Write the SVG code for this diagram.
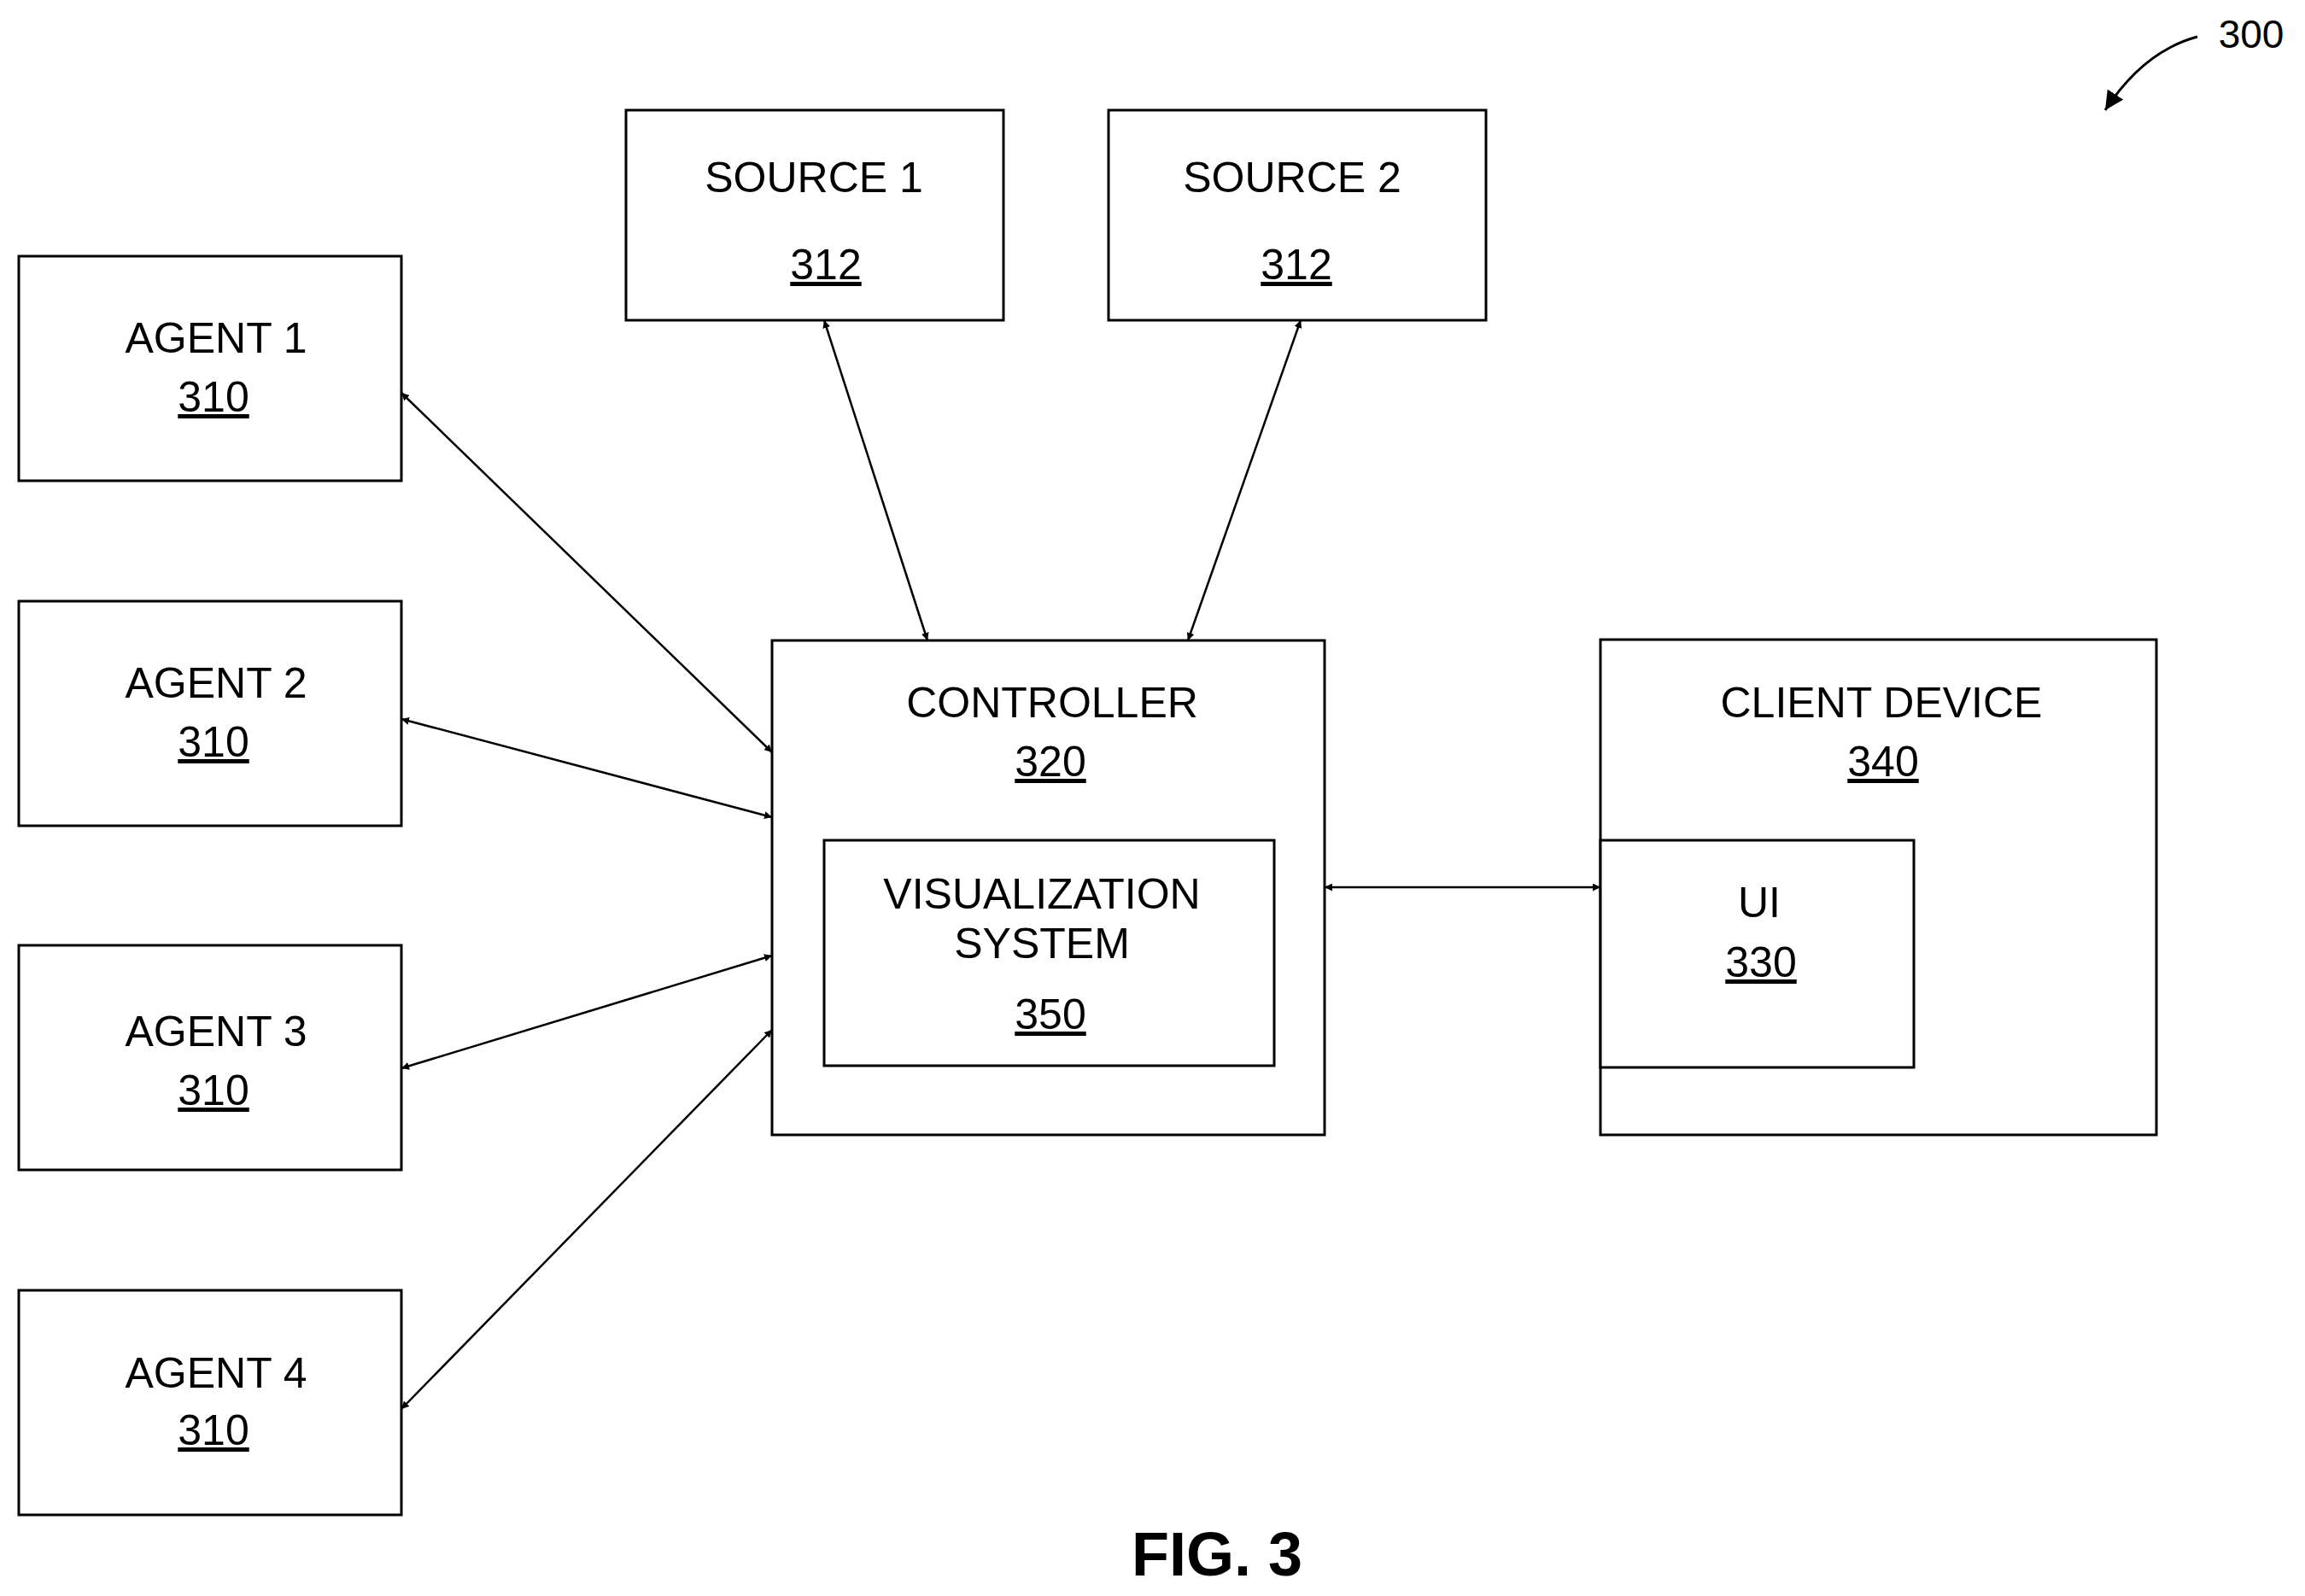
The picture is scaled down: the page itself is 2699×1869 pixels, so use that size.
<svg xmlns="http://www.w3.org/2000/svg" width="2699" height="1869" viewBox="0 0 2699 1869">
<style>
rect{fill:#fff;stroke:#000;stroke-width:3}
text{font-family:"Liberation Sans",Arial,sans-serif;font-size:50px;text-anchor:middle;fill:#000}
.u{text-decoration:underline}
.c line{stroke:#000;stroke-width:2.5;marker-start:url(#a);marker-end:url(#a)}
</style>
<defs><marker id="a" viewBox="0 0 10 10" refX="10" refY="5" markerWidth="9" markerHeight="9" markerUnits="userSpaceOnUse" orient="auto-start-reverse"><path d="M0,0L10,5L0,10z" fill="#000"/></marker>
<marker id="b" viewBox="0 0 10 10" refX="10" refY="5" markerWidth="22" markerHeight="22" markerUnits="userSpaceOnUse" orient="auto"><path d="M0,0L10,5L0,10z" fill="#000"/></marker></defs>
<rect width="2699" height="1869" style="stroke:none"/>
<g id="agent1"><rect x="22" y="300" width="448" height="263"/><text x="253" y="413">AGENT 1</text><text class="u" x="250" y="482">310</text></g>
<g id="agent2"><rect x="22" y="704" width="448" height="263"/><text x="253" y="817">AGENT 2</text><text class="u" x="250" y="886">310</text></g>
<g id="agent3"><rect x="22" y="1107" width="448" height="263"/><text x="253" y="1225">AGENT 3</text><text class="u" x="250" y="1294">310</text></g>
<g id="agent4"><rect x="22" y="1511" width="448" height="263"/><text x="253" y="1625">AGENT 4</text><text class="u" x="250" y="1692">310</text></g>
<g id="source1"><rect x="733" y="129" width="442" height="246"/><text x="953" y="225">SOURCE 1</text><text class="u" x="967" y="327">312</text></g>
<g id="source2"><rect x="1298" y="129" width="442" height="246"/><text x="1513" y="225">SOURCE 2</text><text class="u" x="1518" y="327">312</text></g>
<g id="controller"><rect x="904" y="750" width="647" height="579"/><text x="1232" y="840">CONTROLLER</text><text class="u" x="1230" y="909">320</text></g>
<g id="vis"><rect x="965" y="984" width="527" height="264"/><text x="1220" y="1064">VISUALIZATION</text><text x="1220" y="1122">SYSTEM</text><text class="u" x="1230" y="1205">350</text></g>
<g id="client"><rect x="1874" y="749" width="651" height="580"/><text x="2203" y="840">CLIENT DEVICE</text><text class="u" x="2205" y="909">340</text></g>
<g id="ui"><rect x="1874" y="984" width="367" height="266"/><text x="2060" y="1074">UI</text><text class="u" x="2062" y="1144">330</text></g>
<g class="c">
<line x1="470" y1="460" x2="904" y2="881"/>
<line x1="470" y1="842" x2="904" y2="957"/>
<line x1="470" y1="1251" x2="904" y2="1119"/>
<line x1="470" y1="1650" x2="904" y2="1206"/>
<line x1="965" y1="375" x2="1086" y2="750"/>
<line x1="1523" y1="375" x2="1391" y2="750"/>
<line x1="1551" y1="1039" x2="1874" y2="1039"/>
</g>
<g id="ref300"><path d="M2573,43 Q2510,60 2465,129" fill="none" stroke="#000" stroke-width="3" marker-end="url(#b)"/><text x="2636" y="56" style="font-size:46px">300</text></g>
<text x="1425" y="1845" style="font-size:72px;font-weight:bold">FIG. 3</text>
</svg>
